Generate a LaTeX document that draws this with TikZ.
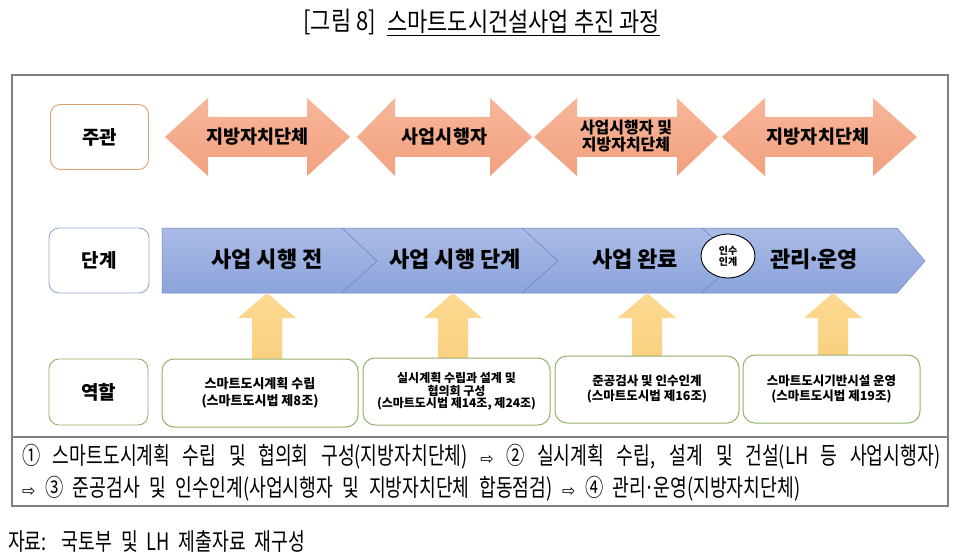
\documentclass[tikz,border=0pt]{standalone}
\usepackage{fontspec}
\setmainfont{Noto Sans CJK KR}
\newfontfamily\kcond[FakeStretch=0.76]{Noto Sans CJK KR}
\newfontfamily\ktitle[FakeStretch=0.845]{Noto Sans CJK KR}
\newfontfamily\dvarrow{DejaVu Sans}
\usetikzlibrary{shapes.geometric}
\definecolor{framegray}{HTML}{7F7F7F}
\definecolor{peachT}{HTML}{F7B699}
\definecolor{peachB}{HTML}{F2A17F}
\definecolor{blueT}{HTML}{AABBE7}
\definecolor{blueB}{HTML}{8CA4DB}
\definecolor{blueLine}{HTML}{7086C0}
\definecolor{yelT}{HTML}{FCDA93}
\definecolor{yelB}{HTML}{FAD07F}
\definecolor{orangeLine}{HTML}{DDA06E}
\definecolor{blueBox}{HTML}{8EA9C9}
\definecolor{greenLine}{HTML}{93B26A}
\newcommand\peacharrow[4]{\path[top color=peachT,bottom color=peachB] (#1,137) -- (#2,98) -- (#2,117) -- (#3,117) -- (#3,98) -- (#4,137) -- (#3,176) -- (#3,157) -- (#2,157) -- (#2,176) -- cycle;}
\newcommand\yelarrow[2]{\path[top color=yelT,bottom color=yelB] (#1,293) -- (#1+29,318) -- (#1+15,318) -- (#1+15,#2) -- (#1-15,#2) -- (#1-15,318) -- (#1-29,318) -- cycle;}
\newcommand\narrowdot{\makebox[0.3em]{·}}
\newcommand\wlarrow{{\dvarrow\fontsize{16}{18}\selectfont ⇨}}
\begin{document}
\begin{tikzpicture}[x=1pt,y=-1pt,
  lbl/.style={draw, rounded corners=10pt, line width=0.9pt, fill=white, inner sep=0pt,
    font=\fontsize{19}{21}\selectfont\bfseries},
  rolebox/.style={draw=greenLine, rounded corners=12pt, line width=1pt, fill=white,
    align=center, inner sep=0pt},
  peachtext/.style={inner sep=0pt, align=center, font=\fontsize{18.5}{20}\selectfont\bfseries},
  chevtext/.style={inner sep=0pt, font=\fontsize{22}{24}\selectfont\bfseries},
  plaintext/.style={inner sep=0pt, font=\kcond\fontsize{24}{26}\selectfont}]
\useasboundingbox (0,0) rectangle (960,556);
\fill[white] (0,0) rectangle (960,556);
% title
\node[inner sep=0pt, font=\ktitle\fontsize{26}{28}\selectfont, anchor=east] (t1) at (376,22) {[그림 8]};
\node[inner sep=0pt, font=\ktitle\fontsize{26}{28}\selectfont, anchor=west] (t2) at (387,22) {스마트도시건설사업 추진 과정};
\draw[line width=1pt] ([yshift=-2pt]t2.south west) -- ([yshift=-2pt]t2.south east);
% frame
\draw[framegray, line width=1.5pt] (12,75) rectangle (948,506);
\draw[framegray, line width=1.5pt] (12,437) -- (948,437);
% row labels
\node[lbl, draw=orangeLine, minimum width=98pt, minimum height=65pt] (jugwan) at (99.5,137) {주관};
\node[lbl, draw=blueBox, minimum width=100pt, minimum height=65pt] (dangye) at (99,260.5) {단계};
\node[lbl, draw=greenLine, minimum width=99pt, minimum height=66pt] (yeokhal) at (98.5,392) {역할};
% peach double arrows
\peacharrow{165}{208}{307}{350}
\peacharrow{357}{395}{490}{532}
\peacharrow{534}{577}{677}{718}
\peacharrow{722}{765}{873}{917}
\node[peachtext] (p1) at (257.5,137) {지방자치단체};
\node[peachtext] (p2) at (444.5,137) {사업시행자};
\node[peachtext, font=\fontsize{16}{17}\selectfont\bfseries] (p3) at (626,136) {사업시행자 및\\지방자치단체};
\node[peachtext] (p4) at (818,137) {지방자치단체};
% chevron bar
\path[top color=blueT, bottom color=blueB, draw=blueLine, line width=0.5pt]
  (162,228) -- (897,228) -- (925,261) -- (897,293) -- (162,293) -- cycle;
\draw[blueLine, line width=0.6pt] (342,228) -- (377,261) -- (342,293);
\draw[blueLine, line width=0.6pt] (522,228) -- (558,261) -- (522,293);
\draw[blueLine, line width=0.6pt] (702,228) -- (737,261) -- (702,293);
\node[chevtext] (c1) at (267,259) {사업 시행 전};
\node[chevtext] (c2) at (455,259) {사업 시행 단계};
\node[chevtext] (c3) at (635,259) {사업 완료};
\node[chevtext] (c4) at (814,259) {관리\narrowdot 운영};
\node[ellipse, draw, fill=white, line width=0.9pt, minimum width=54pt, minimum height=44pt,
  inner sep=0pt, align=center, font=\fontsize{10}{11}\selectfont\bfseries] (handover) at (728,256) {인수\\인계};
% yellow up arrows
\yelarrow{267}{360}
\yelarrow{453}{359}
\yelarrow{647}{357}
\yelarrow{833}{356}
% role boxes
\node[rolebox, minimum width=196pt, minimum height=68pt, font=\fontsize{13}{17}\selectfont\bfseries] (r1) at (260,393)
  {스마트도시계획 수립\\(스마트도시법 제8조)};
\node[rolebox, minimum width=187pt, minimum height=67pt, font=\fontsize{12}{12.5}\selectfont\bfseries] (r2) at (456.5,391.5)
  {실시계획 수립과 설계 및\\협의회 구성\\(스마트도시법 제14조, 제24조)};
\node[rolebox, minimum width=184pt, minimum height=67pt, font=\fontsize{12.5}{15}\selectfont\bfseries] (r3) at (647,389.5)
  {준공검사 및 인수인계\\(스마트도시법 제16조)};
\node[rolebox, minimum width=177pt, minimum height=68pt, font=\fontsize{12.5}{15}\selectfont\bfseries] (r4) at (831.5,389)
  {스마트도시기반시설 운영\\(스마트도시법 제19조)};
% bottom text
\node[plaintext, anchor=west] (l1) at (22,457)
  {\makebox[918pt][s]{① 스마트도시계획 수립 및 협의회 구성(지방자치단체) \wlarrow{} ② 실시계획 수립, 설계 및 건설(LH 등 사업시행자)}};
\node[plaintext, anchor=west] (l2) at (22,489)
  {\makebox[778pt][s]{\wlarrow{} ③ 준공검사 및 인수인계(사업시행자 및 지방자치단체 합동점검) \wlarrow{} ④ 관리\narrowdot 운영(지방자치단체)}};
\node[plaintext, anchor=west] (src) at (8,541) {\makebox[297pt][s]{자료: 국토부 및 LH 제출자료 재구성}};
\end{tikzpicture}
\end{document}
